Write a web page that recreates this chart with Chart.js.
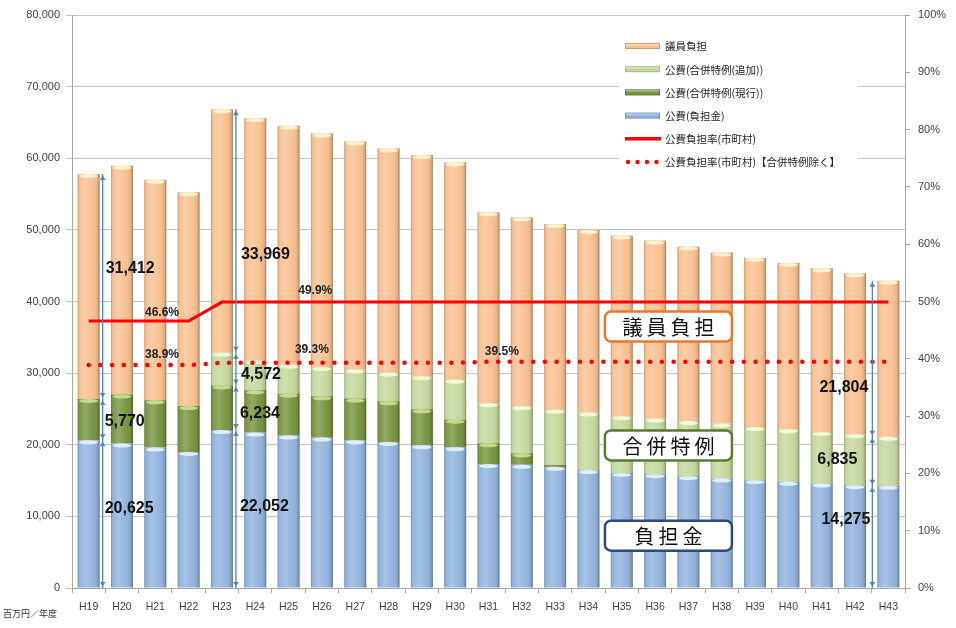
<!DOCTYPE html>
<html lang="ja">
<head>
<meta charset="utf-8">
<title>公費負担の推移</title>
<script src="https://cdn.jsdelivr.net/npm/chart.js@4.4.1/dist/chart.umd.min.js"></script>
<style>
  html, body { margin: 0; padding: 0; background: #fff; }
  #wrap { position: relative; width: 956px; height: 628px; }
</style>
</head>
<body>
<div id="wrap"><canvas id="chart" width="956" height="628"></canvas></div>
<script>
// ---- data (百万円) ----
const years = ['H19', 'H20', 'H21', 'H22', 'H23', 'H24', 'H25', 'H26', 'H27', 'H28', 'H29', 'H30', 'H31',
               'H32', 'H33', 'H34', 'H35', 'H36', 'H37', 'H38', 'H39', 'H40', 'H41', 'H42', 'H43'];

// 公費(負担金)
const futankin = [20625, 20160, 19600, 19000, 22052, 21700, 21280, 21000, 20630, 20390, 19930, 19650, 17300,
                  17200, 16900, 16450, 16070, 15890, 15610, 15290, 15050, 14820, 14590, 14360, 14275];
// 公費(合併特例(現行))
const genko = [5770, 6840, 6600, 6400, 6234, 5900, 5850, 5760, 5810, 5670, 5020, 3850, 2900,
               1600, 300, 0, 0, 0, 0, 0, 0, 0, 0, 0, 0];
// 公費(合併特例(追加))
const tsuika = [0, 0, 0, 0, 4572, 4180, 4040, 4090, 4080, 4000, 4600, 5580, 5580,
                6570, 7700, 8040, 7900, 7760, 7710, 7660, 7430, 7340, 7200, 7100, 6835];
// 議員負担
const giin = [31412, 31950, 30800, 29840, 33969, 33820, 33360, 32610, 31820, 31310, 30890, 30340, 26670,
              26380, 25930, 25500, 25230, 24850, 24350, 23880, 23610, 23230, 22850, 22490, 21804];

// 公費負担率 (%)
const rateAll = [46.6, 46.6, 46.6, 46.6, 49.9, 49.9, 49.9, 49.9, 49.9, 49.9, 49.9, 49.9, 49.9,
                 49.9, 49.9, 49.9, 49.9, 49.9, 49.9, 49.9, 49.9, 49.9, 49.9, 49.9, 49.9];
const rateExcl = [38.9, 38.9, 38.9, 38.9, 39.3, 39.3, 39.3, 39.3, 39.3, 39.3, 39.3, 39.3, 39.5,
                  39.5, 39.5, 39.5, 39.5, 39.5, 39.5, 39.5, 39.5, 39.5, 39.5, 39.5, 39.5];

const amountTicks = [0, 10000, 20000, 30000, 40000, 50000, 60000, 70000, 80000];
const rateTicks = [0, 10, 20, 30, 40, 50, 60, 70, 80, 90, 100];

const LATIN = '"Liberation Sans", Arial, sans-serif';
const CJK = '"Noto Sans CJK JP", "Noto Sans", sans-serif';

// top highlight colour for each stacked segment
const capColors = {
  '公費(負担金)': 'rgba(225,240,252,0.95)',
  '公費(合併特例(現行))': 'rgba(200,220,140,0.95)',
  '公費(合併特例(追加))': 'rgba(245,250,215,0.95)',
  '議員負担': 'rgba(255,244,205,0.95)'
};

// gives every bar a rounded, cylinder-like shading and a pale top cap
const barShade = {
  id: 'barShade',
  afterDatasetDraw(chart, args) {
    const meta = args.meta;
    if (meta.type !== 'bar') return;
    const ctx = chart.ctx;
    const cap = capColors[chart.data.datasets[args.index].label];
    ctx.save();
    meta.data.forEach(el => {
      const { x, y, base, width } = el.getProps(['x', 'y', 'base', 'width'], true);
      const top = Math.min(y, base);
      const h = Math.abs(base - y);
      if (h < 0.5) return;
      const left = x - width / 2;
      const g = ctx.createLinearGradient(left, 0, left + width, 0);
      g.addColorStop(0, 'rgba(0,0,0,0.22)');
      g.addColorStop(0.12, 'rgba(255,255,255,0.05)');
      g.addColorStop(0.35, 'rgba(255,255,255,0.22)');
      g.addColorStop(0.7, 'rgba(255,255,255,0.02)');
      g.addColorStop(0.92, 'rgba(0,0,0,0.12)');
      g.addColorStop(1, 'rgba(0,0,0,0.35)');
      ctx.fillStyle = g;
      ctx.fillRect(left, top, width, h);
      if (h > 3) {
        ctx.fillStyle = cap;
        ctx.beginPath();
        ctx.ellipse(x, top + 2, width / 2 - 1.5, 2, 0, 0, Math.PI * 2);
        ctx.fill();
      }
    });
    ctx.restore();
  }
};

// dimension arrows with the amounts they measure
const callouts = [
  { index: 0, side: 'right', sets: [0, 1, 3], labels: [
      { set: 0, dx: 2, dy: -6 }, { set: 1, dx: 2, dy: 2 }, { set: 3, dx: 3, dy: -18 } ] },
  { index: 4, side: 'right', sets: [0, 1, 2, 3], labels: [
      { set: 0, dx: 4, dy: -2 }, { set: 1, dx: 4, dy: 6 }, { set: 2, dx: 5, dy: 6 }, { set: 3, dx: 5, dy: 24 } ] },
  { index: 24, side: 'left', sets: [0, 2, 3], labels: [
      { set: 0, dx: -2, dy: -17 }, { set: 2, dx: -15, dy: -2 }, { set: 3, dx: -4, dy: 29 } ] }
];

// percentage labels above the two rate lines
const rateLabels = [
  { series: 'all', index: 2, shift: 0.2, dy: -8 },
  { series: 'all', index: 7, shift: -0.2, dy: -11 },
  { series: 'excl', index: 2, shift: 0.2, dy: -10 },
  { series: 'excl', index: 7, shift: -0.3, dy: -13 },
  { series: 'excl', index: 12, shift: 0.4, dy: -10 }
];

// boxed captions for the three funding groups
const groupBoxes = [
  { text: '議員負担', at: 36500, border: '#e5782c' },
  { text: '合併特例', at: 19900, border: '#5b7a2c' },
  { text: '負担金', at: 7300, border: '#2e4a78' }
];

function arrowHead(ctx, x, y, dir) {
  ctx.beginPath();
  ctx.moveTo(x, y);
  ctx.lineTo(x - 2.8, y - dir * 4.5);
  ctx.lineTo(x + 2.8, y - dir * 4.5);
  ctx.closePath();
  ctx.fill();
}

function drawSpaced(ctx, text, cx, cy, spacing) {
  const chars = Array.from(text);
  const widths = chars.map(c => ctx.measureText(c).width);
  const total = widths.reduce((a, b) => a + b, 0) + spacing * (chars.length - 1);
  let x = cx - total / 2;
  ctx.textAlign = 'left';
  chars.forEach((c, i) => {
    ctx.fillText(c, x, cy);
    x += widths[i] + spacing;
  });
}

const annotations = {
  id: 'annotations',
  afterDraw(chart) {
    const ctx = chart.ctx;
    const xs = chart.scales.x;
    const ys = chart.scales.y;
    const y2 = chart.scales.y2;
    const ds = chart.data.datasets;
    const barSets = ds.filter(d => d.type === 'bar');
    const catW = xs.getPixelForValue(1) - xs.getPixelForValue(0);
    ctx.save();

    // arrows + values
    callouts.forEach(c => {
      const el = chart.getDatasetMeta(ds.indexOf(barSets[0])).data[c.index];
      const halfW = el.width / 2;
      const ax = c.side === 'right' ? el.x + halfW + 3 : el.x - halfW - 5;
      let cum = 0;
      const bounds = [];
      barSets.forEach((d, k) => {
        const from = cum;
        cum += d.data[c.index];
        if (c.sets.includes(k)) bounds.push({ k, from, to: cum });
      });
      ctx.strokeStyle = '#4f81bd';
      ctx.fillStyle = '#4f81bd';
      ctx.lineWidth = 1.3;
      ctx.beginPath();
      ctx.moveTo(ax, ys.getPixelForValue(0));
      ctx.lineTo(ax, ys.getPixelForValue(cum));
      ctx.stroke();
      bounds.forEach(b => {
        arrowHead(ctx, ax, ys.getPixelForValue(b.from) - 1.5, 1);
        arrowHead(ctx, ax, ys.getPixelForValue(b.to) + 1.5, -1);
      });
      ctx.fillStyle = '#111';
      ctx.font = 'bold 16px ' + LATIN;
      ctx.textBaseline = 'middle';
      c.labels.forEach(l => {
        const b = bounds.find(bb => bb.k === l.set);
        const value = barSets[l.set].data[c.index];
        const ty = ys.getPixelForValue((b.from + b.to) / 2) + l.dy;
        ctx.textAlign = c.side === 'right' ? 'left' : 'right';
        ctx.fillText(value.toLocaleString('en-US'), ax + l.dx, ty);
      });
    });

    // rate labels
    ctx.font = 'bold 12px ' + LATIN;
    ctx.fillStyle = '#222';
    ctx.textAlign = 'center';
    ctx.textBaseline = 'middle';
    rateLabels.forEach(r => {
      const arr = r.series === 'all' ? rateAll : rateExcl;
      const v = arr[r.index];
      const x = xs.getPixelForValue(r.index) + r.shift * catW;
      const y = y2.getPixelForValue(v) + r.dy;
      ctx.fillText(v.toFixed(1) + '%', x, y);
    });

    // group boxes
    const bx = xs.getPixelForValue(17) + 0.4 * catW;
    groupBoxes.forEach(g => {
      const cy = ys.getPixelForValue(g.at);
      const w = 127, h = 30;
      ctx.beginPath();
      ctx.roundRect(bx - w / 2, cy - h / 2, w, h, 6);
      ctx.fillStyle = '#fff';
      ctx.fill();
      ctx.lineWidth = 2.5;
      ctx.strokeStyle = g.border;
      ctx.stroke();
      ctx.fillStyle = '#111';
      ctx.font = '20px ' + CJK;
      ctx.textBaseline = 'middle';
      drawSpaced(ctx, g.text, bx, cy + 1, 4);
    });

    // legend
    const lx = chart.chartArea.right - 280;
    const ly = chart.chartArea.top + 17;
    ctx.fillStyle = '#fff';
    ctx.fillRect(lx - 6, ly - 14, 238, 142);
    const order = [5, 4, 3, 2, 0, 1];
    order.forEach((di, row) => {
      const d = ds[di];
      const y = ly + 14 + row * 23.2;
      if (d.type === 'bar') {
        const g = ctx.createLinearGradient(0, y - 3, 0, y + 3);
        g.addColorStop(0, '#ffffff');
        g.addColorStop(0.5, d.backgroundColor);
        g.addColorStop(1, d.backgroundColor);
        ctx.fillStyle = g;
        ctx.fillRect(lx, y - 2.5, 35, 5);
        ctx.strokeStyle = d.legendEdge;
        ctx.lineWidth = 1;
        ctx.strokeRect(lx + 0.5, y - 2.5, 34, 5);
      } else if (d.borderDash) {
        ctx.fillStyle = '#ff0000';
        for (let i = 0; i < 4; i++) {
          ctx.beginPath();
          ctx.arc(lx + 3 + i * 9.5, y, 2.2, 0, Math.PI * 2);
          ctx.fill();
        }
      } else {
        ctx.strokeStyle = '#ff0000';
        ctx.lineWidth = 3.5;
        ctx.beginPath();
        ctx.moveTo(lx, y);
        ctx.lineTo(lx + 36, y);
        ctx.stroke();
      }
      ctx.fillStyle = '#222';
      ctx.font = '10.5px ' + CJK;
      ctx.textAlign = 'left';
      ctx.textBaseline = 'middle';
      ctx.fillText(d.label, lx + 40, y + 0.5);
    });

    // unit caption
    ctx.font = '9px ' + CJK;
    ctx.fillStyle = '#333';
    ctx.textAlign = 'left';
    ctx.textBaseline = 'middle';
    ctx.fillText('百万円／年度', 3, 614);
    ctx.restore();
  }
};

const ctx = document.getElementById('chart').getContext('2d');

new Chart(ctx, {
  data: {
    labels: years,
    datasets: [
      { type: 'line', label: '公費負担率(市町村)', data: rateAll, yAxisID: 'y2',
        borderColor: '#ff0000', borderWidth: 3, pointRadius: 0, tension: 0, order: 0 },
      { type: 'line', label: '公費負担率(市町村)【合併特例除く】', data: rateExcl, yAxisID: 'y2',
        borderColor: '#ff0000', borderWidth: 4.5, borderDash: [0.1, 11.6], borderCapStyle: 'round',
        pointRadius: 0, tension: 0, order: 0 },
      { type: 'bar', label: '公費(負担金)', data: futankin, backgroundColor: '#8fb2dd',
        legendEdge: '#6f98c8', stack: 'a', order: 1 },
      { type: 'bar', label: '公費(合併特例(現行))', data: genko, backgroundColor: '#76933c',
        legendEdge: '#56702a', stack: 'a', order: 1 },
      { type: 'bar', label: '公費(合併特例(追加))', data: tsuika, backgroundColor: '#c4d79b',
        legendEdge: '#a3b97a', stack: 'a', order: 1 },
      { type: 'bar', label: '議員負担', data: giin, backgroundColor: '#f9bf8e',
        legendEdge: '#d9996a', stack: 'a', order: 1 }
    ]
  },
  options: {
    responsive: false,
    animation: false,
    events: [],
    datasets: {
      bar: { categoryPercentage: 1, barPercentage: 0.66, borderWidth: 0 }
    },
    layout: { padding: { top: 15, left: 0, right: 0, bottom: 0 } },
    plugins: {
      legend: { display: false },
      tooltip: { enabled: false }
    },
    scales: {
      x: {
        stacked: true,
        grid: { offset: true, drawOnChartArea: false, drawTicks: true, tickLength: 5, color: '#a6a6a6' },
        border: { color: '#a6a6a6' },
        ticks: { color: '#404040', font: { family: LATIN, size: 10.5 }, padding: 8, maxRotation: 0, autoSkip: false },
        afterFit(scale) { scale.height = 40; }
      },
      y: {
        stacked: true,
        min: 0,
        max: 80000,
        afterBuildTicks(scale) { scale.ticks = amountTicks.map(v => ({ value: v })); },
        ticks: {
          color: '#404040',
          font: { family: LATIN, size: 11 },
          padding: 6,
          callback: v => v.toLocaleString('en-US')
        },
        grid: { color: '#c4c4c4', tickLength: 6 },
        border: { color: '#a6a6a6' },
        afterFit(scale) { scale.width = 72; }
      },
      y2: {
        position: 'right',
        min: 0,
        max: 100,
        afterBuildTicks(scale) { scale.ticks = rateTicks.map(v => ({ value: v })); },
        ticks: {
          color: '#404040',
          font: { family: LATIN, size: 11 },
          padding: 8,
          callback: v => v + '%'
        },
        grid: { drawOnChartArea: false, tickLength: 5, color: '#a6a6a6' },
        border: { color: '#a6a6a6' },
        afterFit(scale) { scale.width = 51; }
      }
    }
  },
  plugins: [barShade, annotations]
});
</script>
</body>
</html>
